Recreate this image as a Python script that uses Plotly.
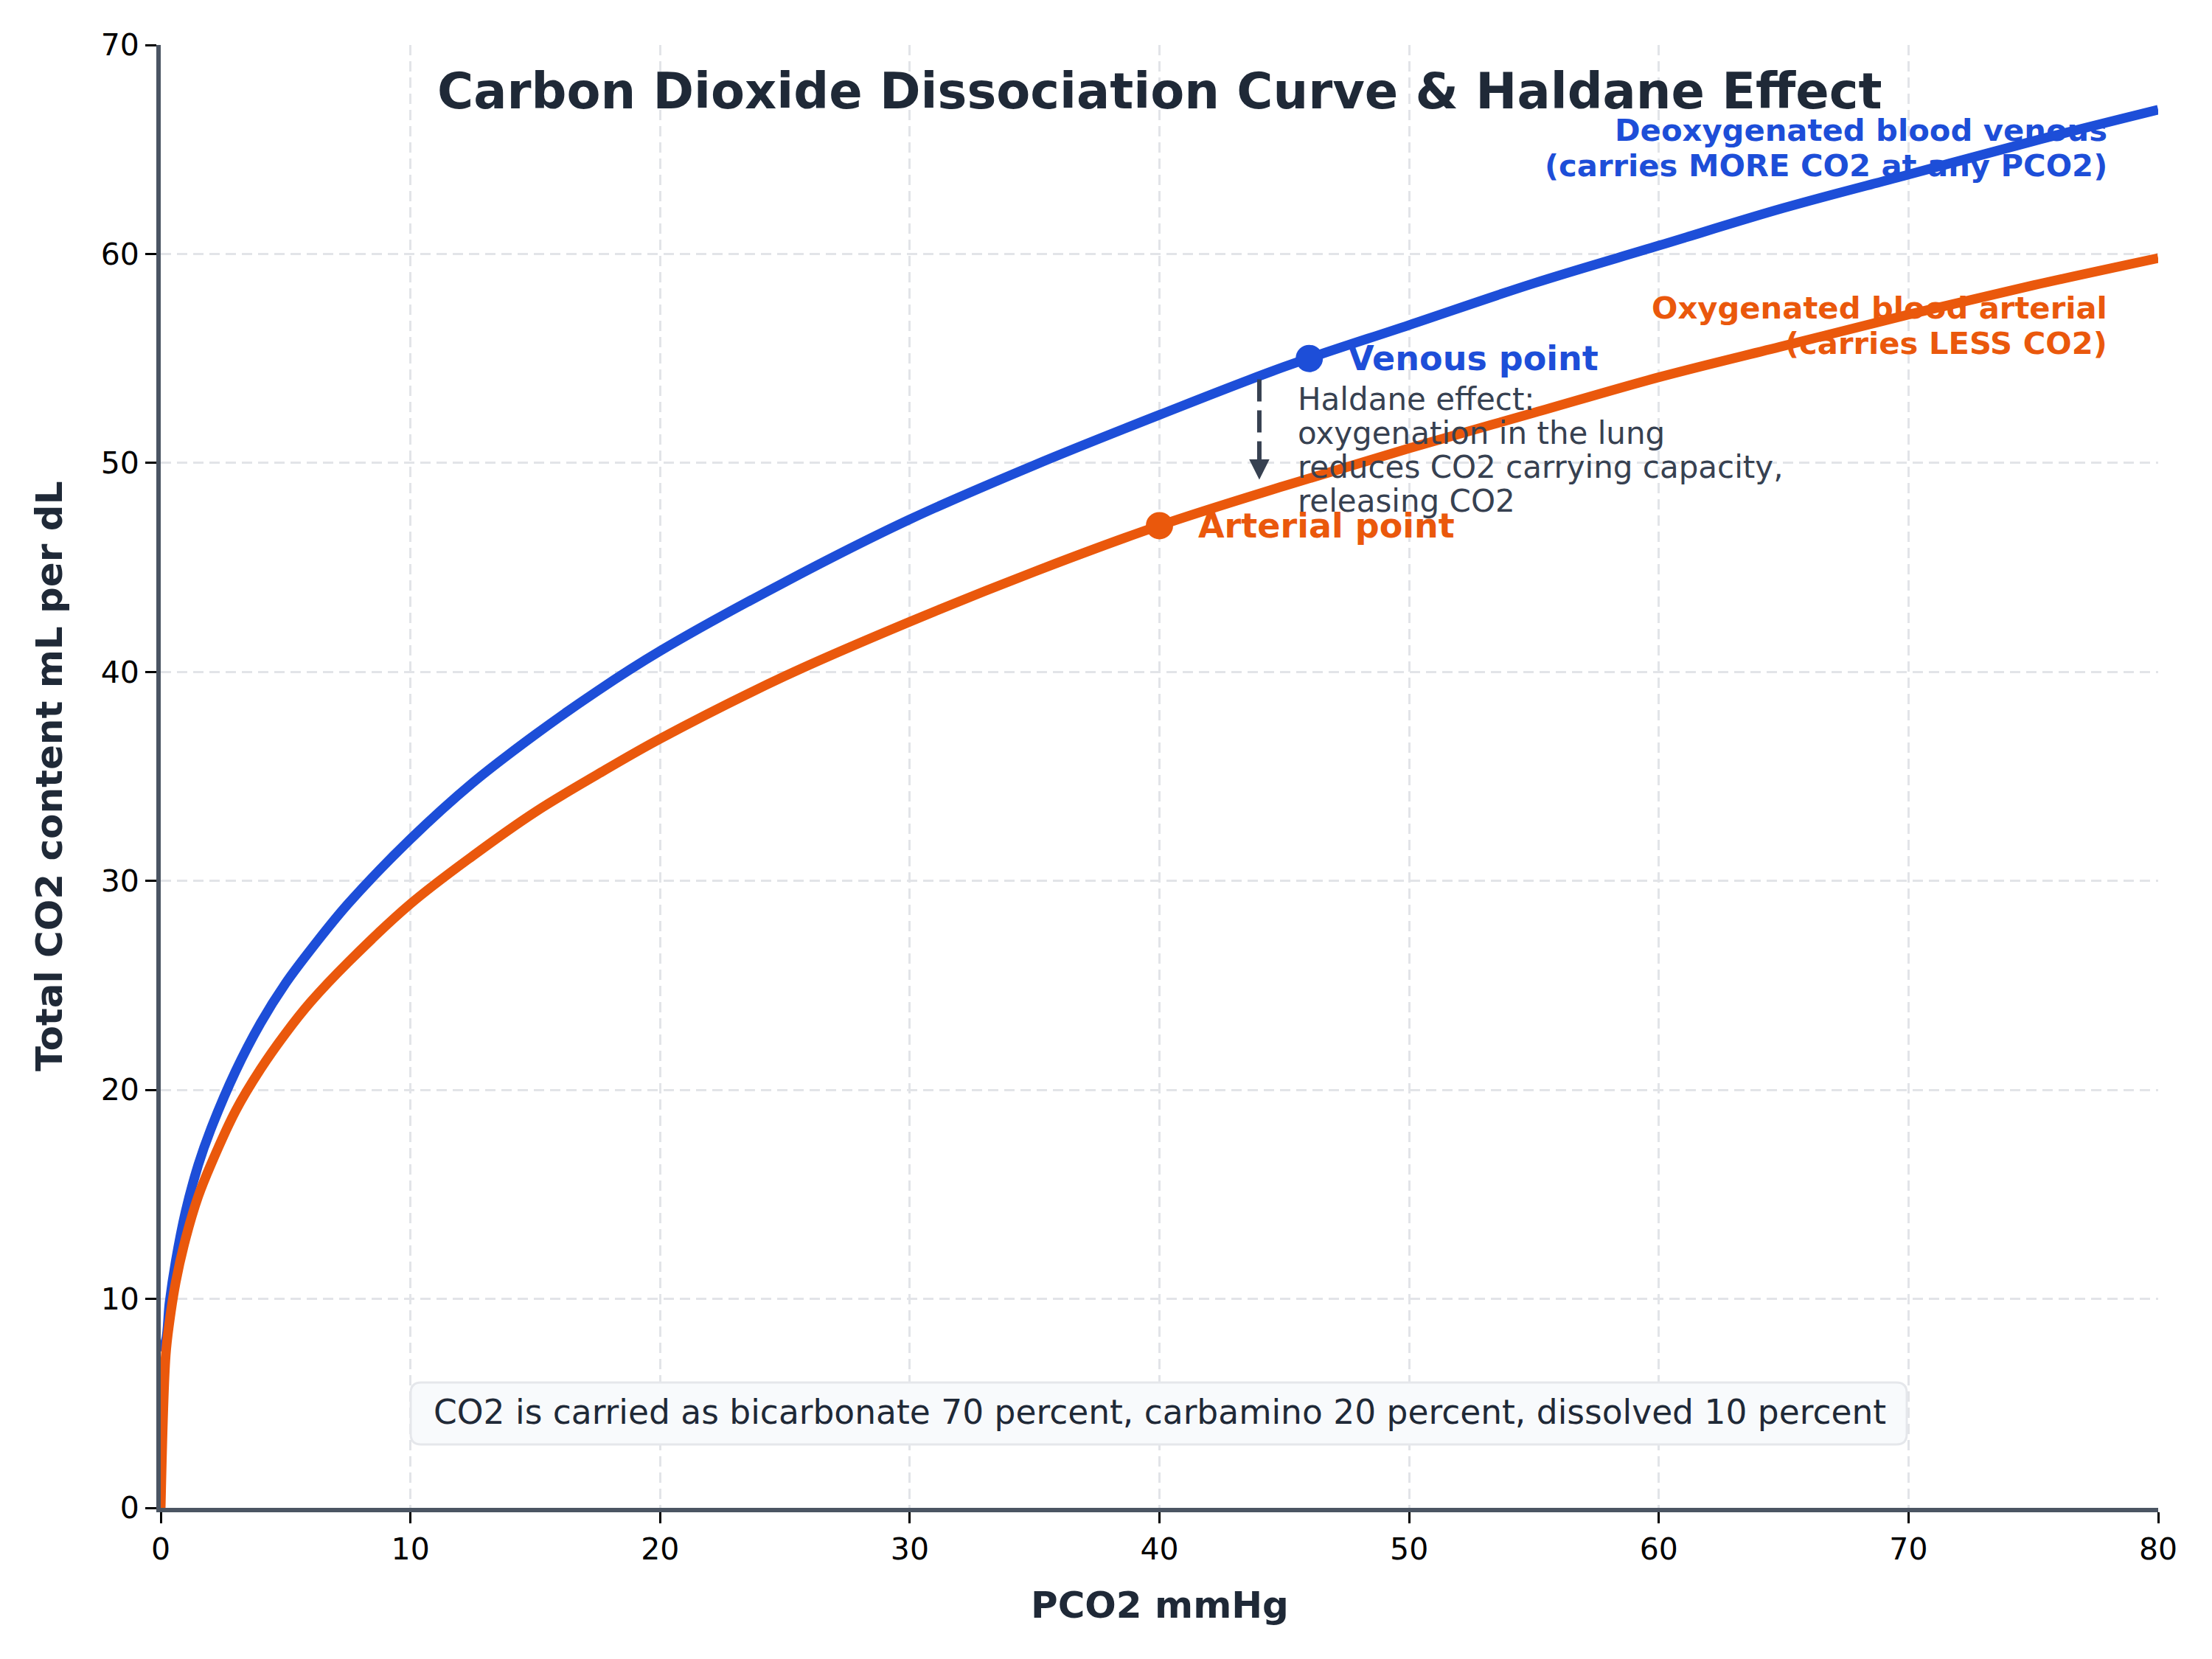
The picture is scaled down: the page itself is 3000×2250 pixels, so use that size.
import plotly.graph_objects as go

# ---- data ----
pco2 = [0, 0.2, 0.35, 0.6, 1, 1.5, 2, 3, 4, 5, 6, 7.5, 10, 12.5, 15, 17.5, 20,
        25, 30, 35, 40, 45, 50, 55, 60, 65, 70, 75, 80]
venous = [7.5, 8.0, 9.8, 11.8, 14.2, 16.4, 18.1, 20.9, 23.2, 25.1, 26.7, 28.9,
          32.0, 34.7, 37.0, 39.1, 41.0, 44.3, 47.3, 49.9, 52.3, 54.6, 56.6, 58.6,
          60.4, 62.2, 63.8, 65.4, 66.9]
arterial = [0.0, 7.3, 8.9, 10.8, 12.9, 14.9, 16.4, 19.0, 21.0, 22.7, 24.2, 26.1,
            28.9, 31.2, 33.3, 35.1, 36.8, 39.8, 42.4, 44.8, 47.0, 48.9, 50.7, 52.4,
            54.1, 55.6, 57.1, 58.5, 59.8]
venous_point = (46, 55)
arterial_point = (40, 47)
x_ticks = [0, 10, 20, 30, 40, 50, 60, 70, 80]
y_ticks = [0, 10, 20, 30, 40, 50, 60, 70]

BLUE = "#1d4ed8"
ORANGE = "#ea580c"
DARK = "#1f2937"
GRAY = "#374151"
FONT = "DejaVu Sans"

# plot area geometry (pixels)
L, R, T, B = 218, 2927, 61, 2045
XS = (R - L) / 80.0
YS = (B - T) / 70.0


def px2x(px):
    return (px - L) / XS


def py2y(py):
    return (B - py) / YS


fig = go.Figure()
fig.add_trace(go.Scatter(x=pco2, y=venous, mode="lines",
                         line=dict(color=BLUE, width=13, shape="spline", smoothing=1.0),
                         showlegend=False, hoverinfo="skip"))
fig.add_trace(go.Scatter(x=pco2, y=arterial, mode="lines",
                         line=dict(color=ORANGE, width=13, shape="spline", smoothing=1.0),
                         showlegend=False, hoverinfo="skip"))
fig.add_trace(go.Scatter(x=[venous_point[0]], y=[venous_point[1]], mode="markers",
                         marker=dict(color=BLUE, size=37), showlegend=False))
fig.add_trace(go.Scatter(x=[arterial_point[0]], y=[arterial_point[1]], mode="markers",
                         marker=dict(color=ORANGE, size=37), showlegend=False))

ann = []
ann.append(dict(x=venous_point[0], y=venous_point[1], xref="x", yref="y",
                text="<b>Venous point</b>", showarrow=False, xanchor="left",
                yanchor="middle", xshift=50,
                font=dict(family=FONT, size=46, color=BLUE)))
ann.append(dict(x=arterial_point[0], y=arterial_point[1], xref="x", yref="y",
                text="<b>Arterial point</b>", showarrow=False, xanchor="left",
                yanchor="middle", xshift=50,
                font=dict(family=FONT, size=46, color=ORANGE)))
haldane_lines = ["Haldane effect:", "oxygenation in the lung",
                 "reduces CO2 carrying capacity,", "releasing CO2"]
for i, t in enumerate(haldane_lines):
    ann.append(dict(x=px2x(1758), y=py2y(541), xref="x", yref="y", text=t,
                    showarrow=False, xanchor="left", yanchor="middle", yshift=-46 * i,
                    font=dict(family=FONT, size=42, color=GRAY)))
# arrow head
ann.append(dict(x=44, y=49.2, ax=44, ay=50.0, xref="x", yref="y", axref="x", ayref="y",
                text="", showarrow=True, arrowhead=2, arrowsize=1.1, arrowwidth=5,
                arrowcolor=GRAY))
venous_label = ["Deoxygenated blood venous", "(carries MORE CO2 at any PCO2)"]
arterial_label = ["Oxygenated blood arterial", "(carries LESS CO2)"]
for i, t in enumerate(venous_label):
    ann.append(dict(x=px2x(2860), y=py2y(176), xref="x", yref="y", text="<b>%s</b>" % t,
                    showarrow=False, xanchor="right", yanchor="middle", yshift=-48 * i,
                    font=dict(family=FONT, size=41.7, color=BLUE)))
for i, t in enumerate(arterial_label):
    ann.append(dict(x=px2x(2860), y=py2y(417), xref="x", yref="y", text="<b>%s</b>" % t,
                    showarrow=False, xanchor="right", yanchor="middle", yshift=-48 * i,
                    font=dict(family=FONT, size=41.7, color=ORANGE)))
ann.append(dict(x=40, y=py2y(1915), xref="x", yref="y",
                text="CO2 is carried as bicarbonate 70 percent, carbamino 20 percent, dissolved 10 percent",
                showarrow=False, xanchor="center", yanchor="middle",
                font=dict(family=FONT, size=45.5, color=DARK)))
# title and axis titles (paper = plot area)
ann.append(dict(x=0.5, y=(B - 124) / (B - T), xref="paper", yref="paper",
                text="<b>Carbon Dioxide Dissociation Curve & Haldane Effect</b>",
                showarrow=False, xanchor="center", yanchor="middle",
                font=dict(family=FONT, size=67, color=DARK)))
ann.append(dict(x=0.5, y=(B - 2177) / (B - T), xref="paper", yref="paper",
                text="<b>PCO2 mmHg</b>", showarrow=False, xanchor="center",
                yanchor="middle", font=dict(family=FONT, size=50, color=DARK)))
ann.append(dict(x=(67 - L) / (R - L), y=0.5, xref="paper", yref="paper",
                text="<b>Total CO2 content mL per dL</b>", showarrow=False,
                xanchor="center", yanchor="middle", textangle=-90,
                font=dict(family=FONT, size=50, color=DARK)))

# rounded note box
bx0, bx1, by0, by1, rad = 557, 2586, 1875, 1959, 14
rx, ry = rad / XS, rad / YS
X0, X1 = px2x(bx0), px2x(bx1)
Y0, Y1 = py2y(by1), py2y(by0)
path = (f"M {X0 + rx},{Y0} L {X1 - rx},{Y0} Q {X1},{Y0} {X1},{Y0 + ry} "
        f"L {X1},{Y1 - ry} Q {X1},{Y1} {X1 - rx},{Y1} L {X0 + rx},{Y1} "
        f"Q {X0},{Y1} {X0},{Y1 - ry} L {X0},{Y0 + ry} Q {X0},{Y0} {X0 + rx},{Y0} Z")
shapes = [
    dict(type="path", xref="x", yref="y", path=path, fillcolor="#f8fafc",
         line=dict(color="#e5e7eb", width=3), layer="above"),
    # dashed arrow shaft
    dict(type="line", xref="x", yref="y", x0=44, x1=44, y0=54.0, y1=49.8,
         line=dict(color=GRAY, width=6, dash="30px,12px"), layer="above"),
]

fig.update_layout(
    width=3000, height=2250,
    margin=dict(l=L, r=3000 - R, t=T, b=2250 - B, autoexpand=False),
    paper_bgcolor="white", plot_bgcolor="white",
    annotations=ann, shapes=shapes,
    font=dict(family=FONT, size=42, color="black"),
)
common = dict(showgrid=True, gridcolor="#e2e4e8", gridwidth=2.5, griddash="14px,8px",
              zeroline=False, showline=True, linecolor="#4b5563", linewidth=6,
              ticks="outside", ticklen=15, tickwidth=3.3, tickcolor="black",
              tickfont=dict(family=FONT, size=41, color="black"))
fig.update_xaxes(range=[0, 80], tickvals=x_ticks, **common)
fig.update_yaxes(range=[0, 70], tickvals=y_ticks, **common)

fig.write_html("out.html")
